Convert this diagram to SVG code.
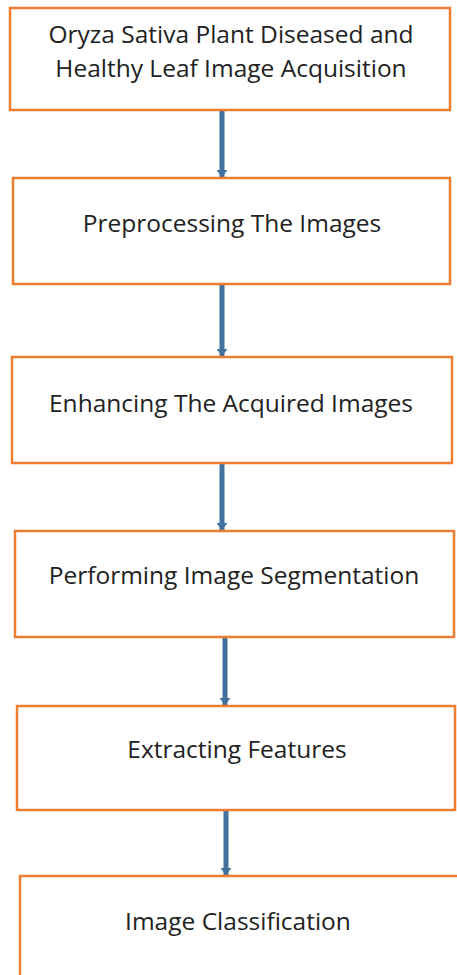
<svg xmlns="http://www.w3.org/2000/svg" width="457" height="975" viewBox="0 0 457 975">
  <style>
    .box { fill: #ffffff; stroke: #ED7D31; stroke-width: 2.5; }
    .lbl { font-family: "Open Sans", "Liberation Sans", sans-serif; font-size: 24.5px; fill: #222222; text-anchor: middle; }
    .link { stroke: #41719C; stroke-width: 5; fill: none; marker-end: url(#head); }
  </style>
  <defs>
    <!-- small filled arrowhead, tip at the line end -->
    <marker id="head" markerUnits="userSpaceOnUse" markerWidth="7" markerHeight="11" refX="7" refY="5.5" orient="auto" viewBox="0 0 7 11">
      <path d="M0,0 L7,5.5 L0,11 Z" fill="#41719C"/>
    </marker>
  </defs>
  <rect width="457" height="975" fill="#ffffff"/>

  <g id="connectors">
    <line class="link" x1="222" y1="111" x2="222" y2="177"/>
    <line class="link" x1="222" y1="285" x2="222" y2="356"/>
    <line class="link" x1="222" y1="464" x2="222" y2="530"/>
    <line class="link" x1="225" y1="638" x2="225" y2="705"/>
    <line class="link" x1="226" y1="811" x2="226" y2="875"/>
  </g>

  <g id="acquisition">
    <rect class="box" x="10" y="8" width="440" height="102"/>
    <text class="lbl" x="231" y="43">Oryza Sativa Plant Diseased and</text>
    <text class="lbl" x="231" y="77">Healthy Leaf Image Acquisition</text>
  </g>
  <g id="preprocessing">
    <rect class="box" x="13" y="178" width="437" height="106"/>
    <text class="lbl" x="232" y="232">Preprocessing The Images</text>
  </g>
  <g id="enhancing">
    <rect class="box" x="12" y="357" width="440" height="106"/>
    <text class="lbl" x="231" y="412">Enhancing The Acquired Images</text>
  </g>
  <g id="segmentation">
    <rect class="box" x="15" y="531" width="439" height="106"/>
    <text class="lbl" x="234" y="584">Performing Image Segmentation</text>
  </g>
  <g id="features">
    <rect class="box" x="17" y="706" width="438" height="104"/>
    <text class="lbl" x="237" y="758">Extracting Features</text>
  </g>
  <g id="classification">
    <rect class="box" x="20" y="876" width="440" height="110"/>
    <text class="lbl" x="238" y="930">Image Classification</text>
  </g>
</svg>
